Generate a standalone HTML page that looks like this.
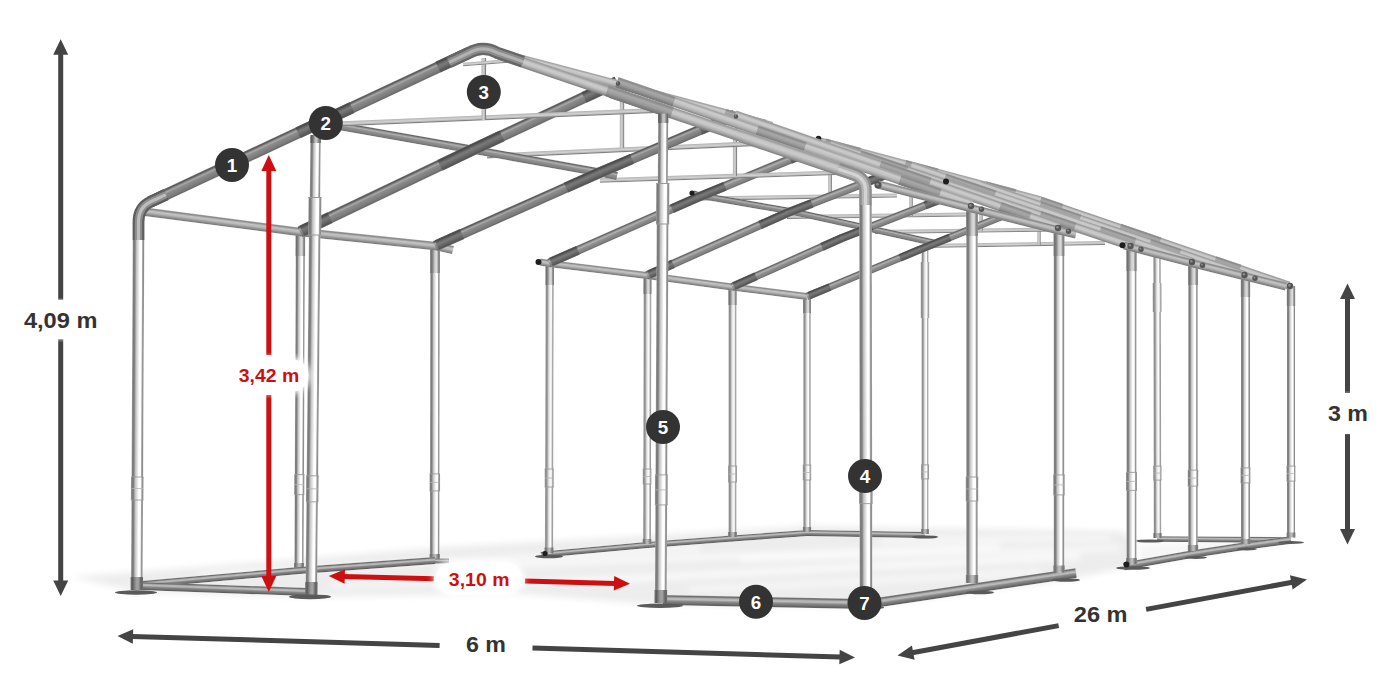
<!DOCTYPE html>
<html lang="pl">
<head>
<meta charset="utf-8">
<title>Wymiary hali namiotowej 6 m x 26 m</title>
<style>
html,body{margin:0;padding:0;background:#fff;}
body{width:1400px;height:700px;overflow:hidden;font-family:"Liberation Sans",sans-serif;}
svg{display:block;}
text{font-family:"Liberation Sans",sans-serif;font-weight:bold;}
.d{fill:#333;font-size:22.6px;}
.r{fill:#cf0f0f;font-size:18.6px;}
.n{fill:#fff;font-size:18.8px;}
</style>
</head>
<body>
<svg width="1400" height="700" viewBox="0 0 1400 700">
<defs>
<linearGradient id="g-post" x1="0" y1="0" x2="0" y2="1"><stop offset="0" stop-color="#a8a8a8"/><stop offset="0.08" stop-color="#7a7a7a"/><stop offset="0.2" stop-color="#808080"/><stop offset="0.34" stop-color="#c4c4c4"/><stop offset="0.5" stop-color="#e4e4e4"/><stop offset="0.62" stop-color="#ffffff"/><stop offset="0.78" stop-color="#ffffff"/><stop offset="0.86" stop-color="#a0a0a0"/><stop offset="0.94" stop-color="#8c8c8c"/><stop offset="1" stop-color="#b4b4b4"/></linearGradient>
<linearGradient id="g-postb" x1="0" y1="0" x2="0" y2="1"><stop offset="0" stop-color="#b4b4b4"/><stop offset="0.1" stop-color="#8c8c8c"/><stop offset="0.24" stop-color="#969696"/><stop offset="0.38" stop-color="#cfcfcf"/><stop offset="0.55" stop-color="#f0f0f0"/><stop offset="0.72" stop-color="#ffffff"/><stop offset="0.84" stop-color="#b0b0b0"/><stop offset="0.94" stop-color="#9a9a9a"/><stop offset="1" stop-color="#c0c0c0"/></linearGradient>
<linearGradient id="g-sleeve" x1="0" y1="0" x2="0" y2="1"><stop offset="0" stop-color="#7c7c7c"/><stop offset="0.1" stop-color="#5c5c5c"/><stop offset="0.25" stop-color="#6e6e6e"/><stop offset="0.45" stop-color="#bcbcbc"/><stop offset="0.6" stop-color="#c8c8c8"/><stop offset="0.78" stop-color="#8a8a8a"/><stop offset="0.92" stop-color="#666666"/><stop offset="1" stop-color="#8a8a8a"/></linearGradient>
<linearGradient id="g-dark" x1="0" y1="0" x2="0" y2="1"><stop offset="0" stop-color="#787878"/><stop offset="0.1" stop-color="#565656"/><stop offset="0.22" stop-color="#8c8c8c"/><stop offset="0.32" stop-color="#a8a8a8"/><stop offset="0.44" stop-color="#8c8c8c"/><stop offset="0.8" stop-color="#7a7a7a"/><stop offset="0.94" stop-color="#6a6a6a"/><stop offset="1" stop-color="#8a8a8a"/></linearGradient>
<linearGradient id="g-dark2" x1="0" y1="0" x2="0" y2="1"><stop offset="0" stop-color="#858585"/><stop offset="0.1" stop-color="#646464"/><stop offset="0.24" stop-color="#989898"/><stop offset="0.36" stop-color="#b0b0b0"/><stop offset="0.5" stop-color="#929292"/><stop offset="0.8" stop-color="#808080"/><stop offset="0.94" stop-color="#707070"/><stop offset="1" stop-color="#909090"/></linearGradient>
<linearGradient id="g-light" x1="0" y1="0" x2="0" y2="1"><stop offset="0" stop-color="#aaaaaa"/><stop offset="0.1" stop-color="#9c9c9c"/><stop offset="0.3" stop-color="#c6c6c6"/><stop offset="0.5" stop-color="#cacaca"/><stop offset="0.7" stop-color="#b2b2b2"/><stop offset="0.88" stop-color="#929292"/><stop offset="1" stop-color="#808080"/></linearGradient>
<linearGradient id="g-lite2" x1="0" y1="0" x2="0" y2="1"><stop offset="0" stop-color="#b0b0b0"/><stop offset="0.1" stop-color="#a4a4a4"/><stop offset="0.3" stop-color="#cccccc"/><stop offset="0.55" stop-color="#c2c2c2"/><stop offset="0.8" stop-color="#a6a6a6"/><stop offset="0.92" stop-color="#8c8c8c"/><stop offset="1" stop-color="#8a8a8a"/></linearGradient>
<linearGradient id="g-eave" x1="0" y1="0" x2="0" y2="1"><stop offset="0" stop-color="#9c9c9c"/><stop offset="0.12" stop-color="#8a8a8a"/><stop offset="0.35" stop-color="#c4c4c4"/><stop offset="0.55" stop-color="#b6b6b6"/><stop offset="0.8" stop-color="#8e8e8e"/><stop offset="0.94" stop-color="#7c7c7c"/><stop offset="1" stop-color="#949494"/></linearGradient>
<linearGradient id="g-tie" x1="0" y1="0" x2="0" y2="1"><stop offset="0" stop-color="#b0b0b0"/><stop offset="0.2" stop-color="#c0c0c0"/><stop offset="0.5" stop-color="#d2d2d2"/><stop offset="0.72" stop-color="#b4b4b4"/><stop offset="0.88" stop-color="#808080"/><stop offset="1" stop-color="#909090"/></linearGradient>
<linearGradient id="g-sleeve2" x1="0" y1="0" x2="0" y2="1"><stop offset="0" stop-color="#989898"/><stop offset="0.1" stop-color="#6e6e6e"/><stop offset="0.26" stop-color="#868686"/><stop offset="0.48" stop-color="#cccccc"/><stop offset="0.68" stop-color="#dedede"/><stop offset="0.84" stop-color="#8c8c8c"/><stop offset="0.94" stop-color="#808080"/><stop offset="1" stop-color="#a0a0a0"/></linearGradient>
<linearGradient id="g-dsl" x1="0" y1="0" x2="0" y2="1"><stop offset="0" stop-color="#5e5e5e"/><stop offset="0.12" stop-color="#484848"/><stop offset="0.3" stop-color="#6a6a6a"/><stop offset="0.45" stop-color="#7a7a7a"/><stop offset="0.7" stop-color="#666666"/><stop offset="0.9" stop-color="#545454"/><stop offset="1" stop-color="#6a6a6a"/></linearGradient>
<linearGradient id="g-lsl" x1="0" y1="0" x2="0" y2="1"><stop offset="0" stop-color="#9a9a9a"/><stop offset="0.12" stop-color="#8a8a8a"/><stop offset="0.35" stop-color="#a8a8a8"/><stop offset="0.6" stop-color="#9c9c9c"/><stop offset="0.85" stop-color="#808080"/><stop offset="1" stop-color="#747474"/></linearGradient>
<linearGradient id="g-ground" x1="0" y1="0" x2="0" y2="1"><stop offset="0" stop-color="#8a8a8a"/><stop offset="0.1" stop-color="#6c6c6c"/><stop offset="0.28" stop-color="#b2b2b2"/><stop offset="0.42" stop-color="#bcbcbc"/><stop offset="0.58" stop-color="#8c8c8c"/><stop offset="0.82" stop-color="#6e6e6e"/><stop offset="0.94" stop-color="#5e5e5e"/><stop offset="1" stop-color="#7c7c7c"/></linearGradient>
<linearGradient id="g-footd" x1="0" y1="0" x2="0" y2="1"><stop offset="0" stop-color="#747474"/><stop offset="0.15" stop-color="#5c5c5c"/><stop offset="0.45" stop-color="#9c9c9c"/><stop offset="0.6" stop-color="#a4a4a4"/><stop offset="0.85" stop-color="#626262"/><stop offset="1" stop-color="#727272"/></linearGradient>
<linearGradient id="g-foot" x1="0" y1="0" x2="0" y2="1"><stop offset="0" stop-color="#8a8a8a"/><stop offset="0.15" stop-color="#6e6e6e"/><stop offset="0.45" stop-color="#b4b4b4"/><stop offset="0.6" stop-color="#bcbcbc"/><stop offset="0.85" stop-color="#747474"/><stop offset="1" stop-color="#848484"/></linearGradient>
<filter id="bl" x="-10%" y="-10%" width="120%" height="120%"><feGaussianBlur stdDeviation="3"/></filter>
<filter id="bl2" x="-10%" y="-30%" width="120%" height="160%"><feGaussianBlur stdDeviation="6"/></filter>
</defs>
<rect width="1400" height="700" fill="#fff"/>

<g filter="url(#bl)">
<polygon points="72,577 300,559 445,547 810,526 1120,531 1136,540 1131,567 1059,581 868,607 660,605 520,594 312,597 137,592" fill="#ededed"/>
<polygon points="1140,545 1290,536 1296,542 1140,566" fill="#f6f6f6"/>
</g>
<g filter="url(#bl)" stroke="#fbfbfb" fill="none">
<line x1="200" y1="574" x2="700" y2="548" stroke-width="4"/>
<line x1="470" y1="566" x2="1000" y2="546" stroke-width="5"/>
<line x1="560" y1="582" x2="1080" y2="556" stroke-width="6"/>
<line x1="690" y1="590" x2="1040" y2="572" stroke-width="4"/>
<line x1="880" y1="540" x2="1110" y2="538" stroke-width="4"/>
<line x1="330" y1="586" x2="640" y2="580" stroke-width="3"/>
<line x1="740" y1="560" x2="1120" y2="548" stroke-width="4"/>
</g>
<rect x="-0.0" y="-3.00" width="118.0" height="6.00" fill="url(#g-ground)" transform="translate(807.0 533.0) rotate(0.97)"/>
<rect x="-0.0" y="-2.80" width="134.0" height="5.60" fill="url(#g-ground)" transform="translate(1157.0 539.0) rotate(0.43)"/>
<circle cx="549.0" cy="554.0" r="3.00" fill="#8a8a8a"/>
<circle cx="647.0" cy="545.0" r="3.00" fill="#8a8a8a"/>
<circle cx="732.0" cy="538.5" r="3.00" fill="#8a8a8a"/>
<rect x="-0.0" y="-3.00" width="8.1" height="6.00" fill="url(#g-ground)" transform="translate(541.0 555.0) rotate(-7.13)"/>
<rect x="-0.0" y="-3.00" width="98.4" height="6.00" fill="url(#g-ground)" transform="translate(549.0 554.0) rotate(-5.25)"/>
<rect x="-0.0" y="-3.00" width="85.2" height="6.00" fill="url(#g-ground)" transform="translate(647.0 545.0) rotate(-4.37)"/>
<rect x="-0.0" y="-3.00" width="75.2" height="6.00" fill="url(#g-ground)" transform="translate(732.0 538.5) rotate(-4.19)"/>
<rect x="-0.0" y="-2.00" width="183.0" height="4.00" fill="url(#g-tie)" transform="translate(922.0 246.0) rotate(-0.94)"/>
<rect x="-0.0" y="-1.70" width="19.0" height="3.40" fill="url(#g-tie)" transform="translate(1039.0 245.0) rotate(-90.00)"/>
<rect x="-0.0" y="-2.00" width="187.0" height="4.00" fill="url(#g-tie)" transform="translate(875.0 232.0) rotate(-0.77)"/>
<rect x="-0.0" y="-1.70" width="20.0" height="3.40" fill="url(#g-tie)" transform="translate(981.0 231.0) rotate(-90.00)"/>
<rect x="-0.0" y="-2.05" width="181.0" height="4.10" fill="url(#g-tie)" transform="translate(787.0 217.0) rotate(-0.79)"/>
<rect x="-0.0" y="-1.80" width="23.0" height="3.60" fill="url(#g-tie)" transform="translate(911.0 216.0) rotate(-90.00)"/>
<rect x="-0.0" y="-2.10" width="197.0" height="4.20" fill="url(#g-tie)" transform="translate(700.0 198.5) rotate(-0.87)"/>
<rect x="-0.0" y="-1.90" width="29.0" height="3.80" fill="url(#g-tie)" transform="translate(830.0 197.0) rotate(-90.00)"/>
<rect x="-0.0" y="-3.50" width="288.0" height="7.00" fill="url(#g-postb)" transform="translate(925.0 534.0) rotate(-90.00)"/>
<rect x="-0.0" y="-4.00" width="14.0" height="8.00" fill="url(#g-postb)" transform="translate(925.0 478.9) rotate(-90.00)"/>
<line x1="921.0" y1="464.9" x2="929.0" y2="464.9" stroke="#9a9a9a" stroke-width="0.9"/>
<line x1="921.0" y1="478.9" x2="929.0" y2="478.9" stroke="#9a9a9a" stroke-width="0.9"/>
<line x1="921.5" y1="471.9" x2="928.5" y2="471.9" stroke="#b4b4b4" stroke-width="0.8"/>
<rect x="-0.0" y="-3.90" width="5.0" height="7.80" fill="url(#g-foot)" transform="translate(925.0 534.0) rotate(-90.00)"/>
<rect x="-0.0" y="-3.75" width="281.0" height="7.50" fill="url(#g-postb)" transform="translate(1157.5 538.0) rotate(-90.10)"/>
<rect x="-0.0" y="-4.25" width="14.0" height="8.50" fill="url(#g-postb)" transform="translate(1157.4 480.1) rotate(-90.10)"/>
<line x1="1153.1" y1="466.1" x2="1161.6" y2="466.1" stroke="#9a9a9a" stroke-width="0.9"/>
<line x1="1153.1" y1="480.1" x2="1161.6" y2="480.1" stroke="#9a9a9a" stroke-width="0.9"/>
<line x1="1153.6" y1="473.1" x2="1161.1" y2="473.1" stroke="#b4b4b4" stroke-width="0.8"/>
<rect x="-0.0" y="-4.15" width="5.0" height="8.30" fill="url(#g-foot)" transform="translate(1157.5 538.0) rotate(-90.10)"/>
<rect x="-0.0" y="-4.30" width="56.0" height="8.60" fill="url(#g-postb)" transform="translate(925.0 318.0) rotate(-90.00)"/>
<rect x="-0.0" y="-4.50" width="29.0" height="9.00" fill="url(#g-postb)" transform="translate(1157.2 312.0) rotate(-90.20)"/>
<ellipse cx="925.0" cy="537.0" rx="13.0" ry="1.6" fill="#5a5a5a"/>
<ellipse cx="1150.0" cy="541.0" rx="14.0" ry="1.6" fill="#5a5a5a"/>
<rect x="-0.0" y="-3.75" width="235.0" height="7.50" fill="url(#g-postb)" transform="translate(807.0 532.0) rotate(-90.00)"/>
<rect x="-0.0" y="-3.95" width="16.0" height="7.90" fill="url(#g-sleeve2)" transform="translate(807.0 313.0) rotate(-90.00)"/>
<rect x="-0.0" y="-4.25" width="15.0" height="8.50" fill="url(#g-postb)" transform="translate(807.0 480.0) rotate(-90.00)"/>
<line x1="802.8" y1="465.0" x2="811.2" y2="465.0" stroke="#9a9a9a" stroke-width="0.9"/>
<line x1="802.8" y1="480.0" x2="811.2" y2="480.0" stroke="#9a9a9a" stroke-width="0.9"/>
<line x1="803.2" y1="472.5" x2="810.8" y2="472.5" stroke="#b4b4b4" stroke-width="0.8"/>
<rect x="-0.0" y="-4.15" width="5.0" height="8.30" fill="url(#g-foot)" transform="translate(807.0 532.0) rotate(-90.00)"/>
<rect x="-0.0" y="-4.00" width="249.0" height="8.00" fill="url(#g-postb)" transform="translate(732.5 537.0) rotate(-90.00)"/>
<rect x="-0.0" y="-4.20" width="17.0" height="8.40" fill="url(#g-sleeve2)" transform="translate(732.5 305.0) rotate(-90.00)"/>
<rect x="-0.0" y="-4.50" width="16.0" height="9.00" fill="url(#g-postb)" transform="translate(732.5 482.0) rotate(-90.00)"/>
<line x1="728.0" y1="466.0" x2="737.0" y2="466.0" stroke="#9a9a9a" stroke-width="0.9"/>
<line x1="728.0" y1="482.0" x2="737.0" y2="482.0" stroke="#9a9a9a" stroke-width="0.9"/>
<line x1="728.5" y1="474.0" x2="736.5" y2="474.0" stroke="#b4b4b4" stroke-width="0.8"/>
<rect x="-0.0" y="-4.40" width="5.0" height="8.80" fill="url(#g-foot)" transform="translate(732.5 537.0) rotate(-90.00)"/>
<rect x="-0.0" y="-3.90" width="268.0" height="7.80" fill="url(#g-postb)" transform="translate(647.0 544.0) rotate(-89.89)"/>
<rect x="-0.0" y="-4.10" width="18.0" height="8.20" fill="url(#g-sleeve2)" transform="translate(647.5 294.0) rotate(-89.89)"/>
<rect x="-0.0" y="-4.40" width="15.0" height="8.80" fill="url(#g-postb)" transform="translate(647.1 484.0) rotate(-89.89)"/>
<line x1="642.7" y1="469.0" x2="651.5" y2="469.0" stroke="#9a9a9a" stroke-width="0.9"/>
<line x1="642.7" y1="484.0" x2="651.5" y2="484.0" stroke="#9a9a9a" stroke-width="0.9"/>
<line x1="643.2" y1="476.5" x2="651.0" y2="476.5" stroke="#b4b4b4" stroke-width="0.8"/>
<rect x="-0.0" y="-4.30" width="5.0" height="8.60" fill="url(#g-foot)" transform="translate(647.0 544.0) rotate(-89.89)"/>
<rect x="-0.0" y="-4.10" width="287.5" height="8.20" fill="url(#g-postb)" transform="translate(549.0 553.5) rotate(-89.86)"/>
<rect x="-0.0" y="-4.30" width="19.0" height="8.60" fill="url(#g-sleeve2)" transform="translate(549.7 285.0) rotate(-89.86)"/>
<rect x="-0.0" y="-4.60" width="18.0" height="9.20" fill="url(#g-postb)" transform="translate(549.2 487.0) rotate(-89.86)"/>
<line x1="544.6" y1="469.0" x2="553.8" y2="469.0" stroke="#9a9a9a" stroke-width="0.9"/>
<line x1="544.6" y1="487.0" x2="553.8" y2="487.0" stroke="#9a9a9a" stroke-width="0.9"/>
<line x1="545.1" y1="478.0" x2="553.3" y2="478.0" stroke="#b4b4b4" stroke-width="0.8"/>
<rect x="-0.0" y="-4.50" width="6.0" height="9.00" fill="url(#g-foot)" transform="translate(549.0 553.5) rotate(-89.86)"/>
<ellipse cx="549.0" cy="556.5" rx="14.0" ry="1.8" fill="#5a5a5a"/>
<circle cx="545.0" cy="553.5" r="2.6" fill="#1e1e1e"/>
<circle cx="549.0" cy="263.5" r="3.50" fill="#a0a0a0"/>
<circle cx="647.0" cy="275.5" r="3.50" fill="#a0a0a0"/>
<circle cx="732.0" cy="287.0" r="3.50" fill="#a0a0a0"/>
<rect x="-0.0" y="-3.50" width="9.1" height="7.00" fill="url(#g-eave)" transform="translate(540.0 262.0) rotate(9.46)"/>
<rect x="-0.0" y="-3.50" width="98.7" height="7.00" fill="url(#g-eave)" transform="translate(549.0 263.5) rotate(6.98)"/>
<rect x="-0.0" y="-3.50" width="85.8" height="7.00" fill="url(#g-eave)" transform="translate(647.0 275.5) rotate(7.70)"/>
<rect x="-0.0" y="-3.50" width="75.6" height="7.00" fill="url(#g-eave)" transform="translate(732.0 287.0) rotate(7.22)"/>
<circle cx="700.0" cy="195.5" r="3.25" fill="#888888"/>
<circle cx="792.0" cy="211.5" r="3.25" fill="#888888"/>
<rect x="-0.0" y="-3.25" width="7.3" height="6.50" fill="url(#g-dark2)" transform="translate(693.0 193.5) rotate(15.95)"/>
<rect x="-0.0" y="-3.25" width="93.4" height="6.50" fill="url(#g-dark2)" transform="translate(700.0 195.5) rotate(9.87)"/>
<rect x="-0.0" y="-3.25" width="146.4" height="6.50" fill="url(#g-dark2)" transform="translate(792.0 211.5) rotate(12.42)"/>
<circle cx="920.0" cy="249.5" r="3.75" fill="#888888"/>
<rect x="-0.0" y="-3.75" width="122.4" height="7.50" fill="url(#g-dark2)" transform="translate(807.0 296.5) rotate(-22.58)"/>
<rect x="-0.0" y="-3.75" width="129.4" height="7.50" fill="url(#g-dark2)" transform="translate(920.0 249.5) rotate(-22.01)"/>
<rect x="-0.0" y="-3.90" width="22.7" height="7.80" fill="url(#g-dsl)" transform="translate(809.0 295.7) rotate(-22.58)"/>
<rect x="-0.0" y="-3.90" width="21.7" height="7.80" fill="url(#g-dsl)" transform="translate(900.0 257.8) rotate(-22.58)"/>
<rect x="-0.0" y="-3.90" width="32.4" height="7.80" fill="url(#g-dsl)" transform="translate(920.0 249.5) rotate(-22.01)"/>
<circle cx="842.0" cy="238.0" r="4.00" fill="#888888"/>
<rect x="-0.0" y="-4.00" width="120.4" height="8.00" fill="url(#g-dark2)" transform="translate(732.0 287.0) rotate(-24.01)"/>
<rect x="-0.0" y="-4.00" width="148.2" height="8.00" fill="url(#g-dark2)" transform="translate(842.0 238.0) rotate(-21.37)"/>
<rect x="-0.0" y="-4.15" width="24.1" height="8.30" fill="url(#g-dsl)" transform="translate(734.0 286.1) rotate(-24.01)"/>
<rect x="-0.0" y="-4.15" width="21.9" height="8.30" fill="url(#g-dsl)" transform="translate(822.0 246.9) rotate(-24.01)"/>
<rect x="-0.0" y="-4.15" width="32.2" height="8.30" fill="url(#g-dsl)" transform="translate(842.0 238.0) rotate(-21.37)"/>
<rect x="-0.0" y="-4.15" width="26.8" height="8.30" fill="url(#g-dsl)" transform="translate(925.0 205.5) rotate(-21.37)"/>
<circle cx="787.0" cy="213.0" r="4.25" fill="#888888"/>
<rect x="-0.0" y="-4.25" width="153.3" height="8.50" fill="url(#g-dark2)" transform="translate(647.0 275.5) rotate(-24.06)"/>
<rect x="-0.0" y="-4.25" width="133.0" height="8.50" fill="url(#g-dark2)" transform="translate(787.0 213.0) rotate(-21.16)"/>
<rect x="-0.0" y="-4.40" width="26.3" height="8.80" fill="url(#g-dsl)" transform="translate(649.0 274.6) rotate(-24.06)"/>
<rect x="-0.0" y="-4.40" width="29.6" height="8.80" fill="url(#g-dsl)" transform="translate(760.0 225.1) rotate(-24.06)"/>
<rect x="-0.0" y="-4.40" width="26.8" height="8.80" fill="url(#g-dsl)" transform="translate(787.0 213.0) rotate(-21.16)"/>
<rect x="-0.0" y="-4.40" width="26.8" height="8.80" fill="url(#g-dsl)" transform="translate(865.0 182.8) rotate(-21.16)"/>
<circle cx="697.5" cy="197.5" r="4.50" fill="#888888"/>
<rect x="-0.0" y="-4.50" width="162.3" height="9.00" fill="url(#g-dark2)" transform="translate(549.0 263.0) rotate(-23.80)"/>
<rect x="-0.0" y="-4.50" width="143.3" height="9.00" fill="url(#g-dark2)" transform="translate(697.5 197.5) rotate(-22.36)"/>
<rect x="-0.0" y="-4.65" width="29.5" height="9.30" fill="url(#g-dsl)" transform="translate(551.0 262.1) rotate(-23.80)"/>
<rect x="-0.0" y="-4.65" width="27.9" height="9.30" fill="url(#g-dsl)" transform="translate(672.0 208.7) rotate(-23.80)"/>
<rect x="-0.0" y="-4.65" width="29.7" height="9.30" fill="url(#g-dsl)" transform="translate(697.5 197.5) rotate(-22.36)"/>
<rect x="-0.0" y="-4.65" width="32.4" height="9.30" fill="url(#g-dsl)" transform="translate(790.0 159.5) rotate(-22.36)"/>
<circle cx="538.5" cy="262.0" r="3.0" fill="#1e1e1e"/>
<circle cx="692.0" cy="193.0" r="2.6" fill="#1e1e1e"/>
<rect x="-0.0" y="-2.30" width="260.1" height="4.60" fill="url(#g-tie)" transform="translate(600.0 180.5) rotate(-1.87)"/>
<rect x="-0.0" y="-2.10" width="48.0" height="4.20" fill="url(#g-tie)" transform="translate(735.0 176.0) rotate(-90.00)"/>
<rect x="-0.0" y="-2.40" width="305.3" height="4.80" fill="url(#g-tie)" transform="translate(487.0 156.0) rotate(-2.63)"/>
<rect x="-0.0" y="-2.20" width="48.0" height="4.40" fill="url(#g-tie)" transform="translate(622.0 148.0) rotate(-90.00)"/>
<rect x="-0.0" y="-4.75" width="311.0" height="9.50" fill="url(#g-post)" transform="translate(434.7 560.0) rotate(-89.94)"/>
<rect x="-0.0" y="-4.95" width="24.0" height="9.90" fill="url(#g-sleeve2)" transform="translate(435.0 273.0) rotate(-89.94)"/>
<rect x="-0.0" y="-5.25" width="17.0" height="10.50" fill="url(#g-post)" transform="translate(434.8 490.9) rotate(-89.94)"/>
<line x1="429.5" y1="473.9" x2="440.0" y2="473.9" stroke="#9a9a9a" stroke-width="0.9"/>
<line x1="429.5" y1="490.9" x2="440.0" y2="490.9" stroke="#9a9a9a" stroke-width="0.9"/>
<line x1="430.0" y1="482.4" x2="439.5" y2="482.4" stroke="#b4b4b4" stroke-width="0.8"/>
<rect x="-0.0" y="-5.15" width="6.0" height="10.30" fill="url(#g-foot)" transform="translate(434.7 560.0) rotate(-89.94)"/>
<rect x="-0.0" y="-2.50" width="15.0" height="5.00" fill="url(#g-ground)" transform="translate(434.0 561.0) rotate(0.00)"/>
<rect x="-0.0" y="-4.60" width="337.0" height="9.20" fill="url(#g-post)" transform="translate(299.0 569.0) rotate(-89.76)"/>
<rect x="-0.0" y="-4.80" width="24.0" height="9.60" fill="url(#g-sleeve2)" transform="translate(300.3 256.0) rotate(-89.76)"/>
<rect x="-0.0" y="-5.10" width="20.0" height="10.20" fill="url(#g-post)" transform="translate(299.3 494.6) rotate(-89.76)"/>
<line x1="294.3" y1="474.6" x2="304.5" y2="474.6" stroke="#9a9a9a" stroke-width="0.9"/>
<line x1="294.2" y1="494.6" x2="304.4" y2="494.6" stroke="#9a9a9a" stroke-width="0.9"/>
<line x1="294.8" y1="484.6" x2="304.0" y2="484.6" stroke="#b4b4b4" stroke-width="0.8"/>
<rect x="-0.0" y="-5.00" width="6.0" height="10.00" fill="url(#g-foot)" transform="translate(299.0 569.0) rotate(-89.76)"/>
<circle cx="299.0" cy="570.5" r="3.40" fill="#8a8a8a"/>
<rect x="-0.0" y="-3.40" width="157.6" height="6.80" fill="url(#g-ground)" transform="translate(142.0 584.5) rotate(-5.10)"/>
<rect x="-0.0" y="-3.40" width="136.4" height="6.80" fill="url(#g-ground)" transform="translate(299.0 570.5) rotate(-4.21)"/>
<circle cx="300.0" cy="232.0" r="4.20" fill="#a0a0a0"/>
<circle cx="435.0" cy="246.0" r="4.20" fill="#a0a0a0"/>
<rect x="-0.0" y="-4.20" width="158.3" height="8.40" fill="url(#g-eave)" transform="translate(143.0 211.5) rotate(7.44)"/>
<rect x="-0.0" y="-4.20" width="135.7" height="8.40" fill="url(#g-eave)" transform="translate(300.0 232.0) rotate(5.92)"/>
<rect x="-0.0" y="-4.20" width="18.4" height="8.40" fill="url(#g-eave)" transform="translate(435.0 246.0) rotate(12.53)"/>
<circle cx="472.0" cy="149.5" r="4.10" fill="#888888"/>
<circle cx="600.0" cy="172.5" r="4.10" fill="#888888"/>
<rect x="-0.0" y="-4.10" width="149.3" height="8.20" fill="url(#g-dark2)" transform="translate(325.0 123.5) rotate(10.03)"/>
<rect x="-0.0" y="-4.10" width="130.0" height="8.20" fill="url(#g-dark2)" transform="translate(472.0 149.5) rotate(10.19)"/>
<rect x="-0.0" y="-4.10" width="17.4" height="8.20" fill="url(#g-dark2)" transform="translate(600.0 172.5) rotate(11.63)"/>
<circle cx="600.0" cy="172.5" r="5.25" fill="#808080"/>
<rect x="-0.0" y="-5.25" width="180.6" height="10.50" fill="url(#g-dark)" transform="translate(435.0 246.0) rotate(-24.01)"/>
<rect x="-0.0" y="-5.25" width="146.7" height="10.50" fill="url(#g-dark)" transform="translate(600.0 172.5) rotate(-23.07)"/>
<rect x="-0.0" y="-5.40" width="27.4" height="10.80" fill="url(#g-dsl)" transform="translate(437.0 245.1) rotate(-24.01)"/>
<rect x="-0.0" y="-5.40" width="37.2" height="10.80" fill="url(#g-dsl)" transform="translate(566.0 187.6) rotate(-24.01)"/>
<rect x="-0.0" y="-5.40" width="34.8" height="10.80" fill="url(#g-dsl)" transform="translate(600.0 172.5) rotate(-23.07)"/>
<rect x="-0.0" y="-5.40" width="38.0" height="10.80" fill="url(#g-dsl)" transform="translate(700.0 129.9) rotate(-23.07)"/>
<circle cx="472.0" cy="150.0" r="5.75" fill="#808080"/>
<rect x="-0.0" y="-5.75" width="190.5" height="11.50" fill="url(#g-dark)" transform="translate(300.0 232.0) rotate(-25.49)"/>
<rect x="-0.0" y="-5.75" width="160.2" height="11.50" fill="url(#g-dark)" transform="translate(472.0 150.0) rotate(-25.12)"/>
<rect x="-0.0" y="-5.90" width="31.0" height="11.80" fill="url(#g-dsl)" transform="translate(302.0 231.0) rotate(-25.49)"/>
<rect x="-0.0" y="-5.90" width="35.5" height="11.80" fill="url(#g-dsl)" transform="translate(440.0 165.3) rotate(-25.49)"/>
<rect x="-0.0" y="-5.90" width="33.1" height="11.80" fill="url(#g-dsl)" transform="translate(472.0 150.0) rotate(-25.12)"/>
<rect x="-0.0" y="-5.90" width="36.4" height="11.80" fill="url(#g-dsl)" transform="translate(584.0 97.5) rotate(-25.12)"/>
<rect x="-0.0" y="-2.50" width="343.3" height="5.00" fill="url(#g-tie)" transform="translate(325.0 124.5) rotate(-2.42)"/>
<rect x="-0.0" y="-2.30" width="62.0" height="4.60" fill="url(#g-tie)" transform="translate(483.8 120.0) rotate(-90.00)"/>
<rect x="-0.0" y="-1.70" width="45.1" height="3.40" fill="url(#g-tie)" transform="translate(463.0 64.5) rotate(-4.45)"/>
<circle cx="1131.0" cy="565.0" r="3.80" fill="#8a8a8a"/>
<circle cx="1193.0" cy="554.0" r="3.80" fill="#8a8a8a"/>
<circle cx="1245.5" cy="546.0" r="3.80" fill="#8a8a8a"/>
<rect x="-0.0" y="-3.80" width="7.2" height="7.60" fill="url(#g-ground)" transform="translate(1124.0 566.5) rotate(-12.09)"/>
<rect x="-0.0" y="-3.80" width="63.0" height="7.60" fill="url(#g-ground)" transform="translate(1131.0 565.0) rotate(-10.06)"/>
<rect x="-0.0" y="-3.80" width="53.1" height="7.60" fill="url(#g-ground)" transform="translate(1193.0 554.0) rotate(-8.66)"/>
<rect x="-0.0" y="-3.80" width="45.9" height="7.60" fill="url(#g-ground)" transform="translate(1245.5 546.0) rotate(-7.51)"/>
<rect x="-0.0" y="-4.00" width="251.5" height="8.00" fill="url(#g-post)" transform="translate(1291.0 537.5) rotate(-90.00)"/>
<rect x="-0.0" y="-4.20" width="20.0" height="8.40" fill="url(#g-sleeve2)" transform="translate(1291.0 306.0) rotate(-90.00)"/>
<rect x="-0.0" y="-4.50" width="15.0" height="9.00" fill="url(#g-post)" transform="translate(1291.0 481.1) rotate(-90.00)"/>
<line x1="1286.5" y1="466.1" x2="1295.5" y2="466.1" stroke="#9a9a9a" stroke-width="0.9"/>
<line x1="1286.5" y1="481.1" x2="1295.5" y2="481.1" stroke="#9a9a9a" stroke-width="0.9"/>
<line x1="1287.0" y1="473.6" x2="1295.0" y2="473.6" stroke="#b4b4b4" stroke-width="0.8"/>
<rect x="-0.0" y="-4.40" width="5.0" height="8.80" fill="url(#g-foot)" transform="translate(1291.0 537.5) rotate(-90.00)"/>
<rect x="-0.0" y="-4.50" width="269.0" height="9.00" fill="url(#g-post)" transform="translate(1245.5 544.0) rotate(-90.00)"/>
<rect x="-0.0" y="-4.70" width="22.0" height="9.40" fill="url(#g-sleeve2)" transform="translate(1245.5 297.0) rotate(-90.00)"/>
<rect x="-0.0" y="-5.00" width="15.0" height="10.00" fill="url(#g-post)" transform="translate(1245.5 482.9) rotate(-90.00)"/>
<line x1="1240.5" y1="467.9" x2="1250.5" y2="467.9" stroke="#9a9a9a" stroke-width="0.9"/>
<line x1="1240.5" y1="482.9" x2="1250.5" y2="482.9" stroke="#9a9a9a" stroke-width="0.9"/>
<line x1="1241.0" y1="475.4" x2="1250.0" y2="475.4" stroke="#b4b4b4" stroke-width="0.8"/>
<rect x="-0.0" y="-4.90" width="5.0" height="9.80" fill="url(#g-foot)" transform="translate(1245.5 544.0) rotate(-90.00)"/>
<rect x="-0.0" y="-4.75" width="289.0" height="9.50" fill="url(#g-post)" transform="translate(1193.0 551.0) rotate(-90.00)"/>
<rect x="-0.0" y="-4.95" width="23.0" height="9.90" fill="url(#g-sleeve2)" transform="translate(1193.0 285.0) rotate(-90.00)"/>
<rect x="-0.0" y="-5.25" width="16.0" height="10.50" fill="url(#g-post)" transform="translate(1193.0 486.1) rotate(-90.00)"/>
<line x1="1187.8" y1="470.1" x2="1198.2" y2="470.1" stroke="#9a9a9a" stroke-width="0.9"/>
<line x1="1187.8" y1="486.1" x2="1198.2" y2="486.1" stroke="#9a9a9a" stroke-width="0.9"/>
<line x1="1188.2" y1="478.1" x2="1197.8" y2="478.1" stroke="#b4b4b4" stroke-width="0.8"/>
<rect x="-0.0" y="-5.15" width="6.0" height="10.30" fill="url(#g-foot)" transform="translate(1193.0 551.0) rotate(-90.00)"/>
<rect x="-0.0" y="-5.00" width="318.0" height="10.00" fill="url(#g-post)" transform="translate(1131.5 564.0) rotate(-90.00)"/>
<rect x="-0.0" y="-5.20" width="25.0" height="10.40" fill="url(#g-sleeve2)" transform="translate(1131.5 271.0) rotate(-90.00)"/>
<rect x="-0.0" y="-5.50" width="18.0" height="11.00" fill="url(#g-post)" transform="translate(1131.5 490.4) rotate(-90.00)"/>
<line x1="1126.0" y1="472.4" x2="1137.0" y2="472.4" stroke="#9a9a9a" stroke-width="0.9"/>
<line x1="1126.0" y1="490.4" x2="1137.0" y2="490.4" stroke="#9a9a9a" stroke-width="0.9"/>
<line x1="1126.5" y1="481.4" x2="1136.5" y2="481.4" stroke="#b4b4b4" stroke-width="0.8"/>
<rect x="-0.0" y="-5.40" width="6.0" height="10.80" fill="url(#g-foot)" transform="translate(1131.5 564.0) rotate(-90.00)"/>
<ellipse cx="1133.0" cy="568.0" rx="17.0" ry="1.8" fill="#5a5a5a"/>
<ellipse cx="1291.0" cy="542.5" rx="13.0" ry="1.5" fill="#5a5a5a"/>
<ellipse cx="1247.0" cy="549.0" rx="10.0" ry="1.4" fill="#5a5a5a"/>
<ellipse cx="1196.0" cy="557.5" rx="11.0" ry="1.4" fill="#5a5a5a"/>
<circle cx="1126.5" cy="564.5" r="3.0" fill="#1e1e1e"/>
<circle cx="972.0" cy="588.5" r="4.80" fill="#8a8a8a"/>
<circle cx="1059.0" cy="575.5" r="4.80" fill="#8a8a8a"/>
<rect x="-0.0" y="-4.80" width="105.1" height="9.60" fill="url(#g-ground)" transform="translate(868.0 604.0) rotate(-8.48)"/>
<rect x="-0.0" y="-4.80" width="88.0" height="9.60" fill="url(#g-ground)" transform="translate(972.0 588.5) rotate(-8.50)"/>
<rect x="-0.0" y="-4.80" width="17.2" height="9.60" fill="url(#g-ground)" transform="translate(1059.0 575.5) rotate(-8.37)"/>
<rect x="-0.0" y="-5.25" width="343.5" height="10.50" fill="url(#g-post)" transform="translate(1059.0 572.5) rotate(-90.00)"/>
<rect x="-0.0" y="-5.45" width="27.0" height="10.90" fill="url(#g-sleeve2)" transform="translate(1059.0 256.0) rotate(-90.00)"/>
<rect x="-0.0" y="-5.75" width="20.0" height="11.50" fill="url(#g-post)" transform="translate(1059.0 494.9) rotate(-90.00)"/>
<line x1="1053.2" y1="474.9" x2="1064.8" y2="474.9" stroke="#9a9a9a" stroke-width="0.9"/>
<line x1="1053.2" y1="494.9" x2="1064.8" y2="494.9" stroke="#9a9a9a" stroke-width="0.9"/>
<line x1="1053.8" y1="484.9" x2="1064.2" y2="484.9" stroke="#b4b4b4" stroke-width="0.8"/>
<rect x="-0.0" y="-5.65" width="7.0" height="11.30" fill="url(#g-foot)" transform="translate(1059.0 572.5) rotate(-90.00)"/>
<rect x="-0.0" y="-5.75" width="376.0" height="11.50" fill="url(#g-post)" transform="translate(972.0 583.0) rotate(-90.00)"/>
<rect x="-0.0" y="-5.95" width="29.0" height="11.90" fill="url(#g-sleeve2)" transform="translate(972.0 236.0) rotate(-90.00)"/>
<rect x="-0.0" y="-6.25" width="24.0" height="12.50" fill="url(#g-post)" transform="translate(972.0 501.0) rotate(-90.00)"/>
<line x1="965.8" y1="477.0" x2="978.2" y2="477.0" stroke="#9a9a9a" stroke-width="0.9"/>
<line x1="965.8" y1="501.0" x2="978.2" y2="501.0" stroke="#9a9a9a" stroke-width="0.9"/>
<line x1="966.2" y1="489.0" x2="977.8" y2="489.0" stroke="#b4b4b4" stroke-width="0.8"/>
<rect x="-0.0" y="-6.15" width="8.0" height="12.30" fill="url(#g-foot)" transform="translate(972.0 583.0) rotate(-90.00)"/>
<ellipse cx="1066.0" cy="580.0" rx="14.0" ry="1.8" fill="#5a5a5a"/>
<ellipse cx="980.0" cy="592.5" rx="14.0" ry="1.8" fill="#5a5a5a"/>
<rect x="-0.0" y="-4.00" width="263.1" height="8.00" fill="url(#g-light)" transform="translate(1040.0 200.5) rotate(18.85)"/>
<rect x="-0.0" y="-4.15" width="23.2" height="8.30" fill="url(#g-lsl)" transform="translate(1040.0 200.5) rotate(18.85)"/>
<rect x="-0.0" y="-4.15" width="42.3" height="8.30" fill="url(#g-lsl)" transform="translate(1120.0 227.8) rotate(18.85)"/>
<rect x="-0.0" y="-4.15" width="26.4" height="8.30" fill="url(#g-lsl)" transform="translate(1215.0 260.2) rotate(18.85)"/>
<rect x="-0.0" y="-4.50" width="228.7" height="9.00" fill="url(#g-lite2)" transform="translate(819.0 141.5) rotate(14.95)"/>
<rect x="-0.0" y="-4.65" width="36.2" height="9.30" fill="url(#g-lsl)" transform="translate(825.0 143.1) rotate(14.95)"/>
<rect x="-0.0" y="-4.65" width="33.1" height="9.30" fill="url(#g-lsl)" transform="translate(905.0 164.5) rotate(14.95)"/>
<rect x="-0.0" y="-4.65" width="31.1" height="9.30" fill="url(#g-lsl)" transform="translate(985.0 185.8) rotate(14.95)"/>
<rect x="-0.0" y="-4.00" width="280.0" height="8.00" fill="url(#g-light)" transform="translate(980.0 184.5) rotate(18.86)"/>
<rect x="-0.0" y="-4.15" width="42.3" height="8.30" fill="url(#g-lsl)" transform="translate(1040.0 205.0) rotate(18.86)"/>
<rect x="-0.0" y="-4.15" width="31.7" height="8.30" fill="url(#g-lsl)" transform="translate(1150.0 242.6) rotate(18.86)"/>
<rect x="-0.0" y="-4.25" width="297.9" height="8.50" fill="url(#g-lite2)" transform="translate(911.0 166.0) rotate(18.80)"/>
<rect x="-0.0" y="-4.40" width="52.8" height="8.80" fill="url(#g-lsl)" transform="translate(945.0 177.6) rotate(18.80)"/>
<rect x="-0.0" y="-4.40" width="37.0" height="8.80" fill="url(#g-lsl)" transform="translate(1100.0 230.3) rotate(18.80)"/>
<rect x="-0.0" y="-4.50" width="317.7" height="9.00" fill="url(#g-light)" transform="translate(830.0 144.5) rotate(18.63)"/>
<rect x="-0.0" y="-4.65" width="49.6" height="9.30" fill="url(#g-lsl)" transform="translate(860.0 154.6) rotate(18.63)"/>
<rect x="-0.0" y="-4.65" width="36.9" height="9.30" fill="url(#g-lsl)" transform="translate(1040.0 215.3) rotate(18.63)"/>
<circle cx="818.5" cy="138.5" r="2.8" fill="#1e1e1e"/>
<circle cx="617.0" cy="84.0" r="4.20" fill="#c2c2c2"/>
<circle cx="740.0" cy="117.1" r="4.20" fill="#c2c2c2"/>
<rect x="-0.0" y="-4.20" width="124.1" height="8.40" fill="url(#g-lite2)" transform="translate(497.0 52.4) rotate(14.75)"/>
<rect x="-0.0" y="-4.20" width="127.4" height="8.40" fill="url(#g-lite2)" transform="translate(617.0 84.0) rotate(15.06)"/>
<rect x="-0.0" y="-4.20" width="33.2" height="8.40" fill="url(#g-lite2)" transform="translate(740.0 117.1) rotate(15.54)"/>
<rect x="-0.0" y="-4.35" width="34.2" height="8.70" fill="url(#g-lsl)" transform="translate(617.0 84.0) rotate(15.06)"/>
<rect x="-0.0" y="-4.35" width="15.5" height="8.70" fill="url(#g-lsl)" transform="translate(725.0 113.1) rotate(15.06)"/>
<rect x="-0.0" y="-4.35" width="25.9" height="8.70" fill="url(#g-lsl)" transform="translate(740.0 117.1) rotate(15.54)"/>
<rect x="-0.0" y="-4.75" width="342.8" height="9.50" fill="url(#g-light)" transform="translate(735.0 115.0) rotate(19.07)"/>
<rect x="-0.0" y="-4.90" width="52.9" height="9.80" fill="url(#g-lsl)" transform="translate(880.0 165.1) rotate(19.07)"/>
<rect x="-0.0" y="-4.90" width="31.7" height="9.80" fill="url(#g-lsl)" transform="translate(1000.0 206.6) rotate(19.07)"/>
<circle cx="946.0" cy="181.5" r="3.0" fill="#1e1e1e"/>
<rect x="-0.0" y="-5.00" width="375.5" height="10.00" fill="url(#g-lite2)" transform="translate(617.0 82.0) rotate(19.04)"/>
<rect x="-0.0" y="-5.15" width="60.3" height="10.30" fill="url(#g-lsl)" transform="translate(617.0 82.0) rotate(19.04)"/>
<rect x="-0.0" y="-5.15" width="50.8" height="10.30" fill="url(#g-lsl)" transform="translate(757.0 130.3) rotate(19.04)"/>
<rect x="-0.0" y="-5.15" width="42.3" height="10.30" fill="url(#g-lsl)" transform="translate(900.0 179.7) rotate(19.04)"/>
<circle cx="618.0" cy="83.5" r="2.2" fill="#555"/>
<circle cx="617.4" cy="82.8" r="0.8" fill="#8e8e8e"/>
<circle cx="736.0" cy="116.5" r="2.2" fill="#555"/>
<circle cx="735.4" cy="115.8" r="0.8" fill="#8e8e8e"/>
<circle cx="1131.5" cy="247.5" r="4.00" fill="#a0a0a0"/>
<circle cx="1193.0" cy="263.5" r="4.00" fill="#a0a0a0"/>
<circle cx="1245.5" cy="276.5" r="4.00" fill="#a0a0a0"/>
<rect x="-0.0" y="-4.00" width="7.8" height="8.00" fill="url(#g-eave)" transform="translate(1124.0 245.5) rotate(14.93)"/>
<rect x="-0.0" y="-4.00" width="63.5" height="8.00" fill="url(#g-eave)" transform="translate(1131.5 247.5) rotate(14.58)"/>
<rect x="-0.0" y="-4.00" width="54.1" height="8.00" fill="url(#g-eave)" transform="translate(1193.0 263.5) rotate(13.91)"/>
<rect x="-0.0" y="-4.00" width="41.7" height="8.00" fill="url(#g-eave)" transform="translate(1245.5 276.5) rotate(13.87)"/>
<circle cx="972.0" cy="208.5" r="4.20" fill="#a0a0a0"/>
<circle cx="1059.0" cy="230.5" r="4.20" fill="#a0a0a0"/>
<rect x="-0.0" y="-4.20" width="97.0" height="8.40" fill="url(#g-eave)" transform="translate(878.0 184.5) rotate(14.32)"/>
<rect x="-0.0" y="-4.20" width="89.7" height="8.40" fill="url(#g-eave)" transform="translate(972.0 208.5) rotate(14.19)"/>
<rect x="-0.0" y="-4.20" width="17.5" height="8.40" fill="url(#g-eave)" transform="translate(1059.0 230.5) rotate(13.24)"/>
<circle cx="1122.5" cy="245.2" r="3.0" fill="#1e1e1e"/>
<circle cx="971.0" cy="206.0" r="3.2" fill="#555"/>
<circle cx="970.4" cy="205.3" r="1.2" fill="#8e8e8e"/>
<circle cx="981.5" cy="209.2" r="2.7" fill="#555"/>
<circle cx="980.9" cy="208.5" r="1.0" fill="#8e8e8e"/>
<circle cx="1058.0" cy="228.0" r="3.2" fill="#555"/>
<circle cx="1057.4" cy="227.3" r="1.2" fill="#8e8e8e"/>
<circle cx="1068.5" cy="231.2" r="2.7" fill="#555"/>
<circle cx="1067.9" cy="230.5" r="1.0" fill="#8e8e8e"/>
<circle cx="1130.5" cy="246.0" r="3.2" fill="#555"/>
<circle cx="1129.9" cy="245.3" r="1.2" fill="#8e8e8e"/>
<circle cx="1141.0" cy="249.2" r="2.7" fill="#555"/>
<circle cx="1140.4" cy="248.5" r="1.0" fill="#8e8e8e"/>
<circle cx="1192.0" cy="262.0" r="3.2" fill="#555"/>
<circle cx="1191.4" cy="261.3" r="1.2" fill="#8e8e8e"/>
<circle cx="1202.5" cy="265.2" r="2.7" fill="#555"/>
<circle cx="1201.9" cy="264.5" r="1.0" fill="#8e8e8e"/>
<circle cx="1244.5" cy="275.0" r="3.2" fill="#555"/>
<circle cx="1243.9" cy="274.3" r="1.2" fill="#8e8e8e"/>
<circle cx="1255.0" cy="278.2" r="2.7" fill="#555"/>
<circle cx="1254.4" cy="277.5" r="1.0" fill="#8e8e8e"/>
<circle cx="1290.0" cy="286.0" r="3.2" fill="#555"/>
<circle cx="1289.4" cy="285.3" r="1.2" fill="#8e8e8e"/>
<circle cx="878.0" cy="185.0" r="3.6" fill="#555"/>
<circle cx="877.4" cy="184.3" r="1.3" fill="#8e8e8e"/>
<rect x="-0.0" y="-4.00" width="168.1" height="8.00" fill="url(#g-ground)" transform="translate(140.0 586.0) rotate(2.05)"/>
<rect x="-0.0" y="-5.00" width="203.0" height="10.00" fill="url(#g-ground)" transform="translate(663.0 600.0) rotate(1.13)"/>
<rect x="-0.0" y="-5.80" width="351.1" height="11.60" fill="url(#g-dark)" transform="translate(150.0 202.1) rotate(-25.09)"/>
<rect x="-0.0" y="-5.95" width="17.7" height="11.90" fill="url(#g-dsl)" transform="translate(150.0 202.1) rotate(-25.10)"/>
<rect x="-0.0" y="-5.95" width="59.6" height="11.90" fill="url(#g-dsl)" transform="translate(298.0 132.8) rotate(-25.10)"/>
<rect x="-0.0" y="-5.95" width="35.3" height="11.90" fill="url(#g-dsl)" transform="translate(438.0 67.2) rotate(-25.10)"/>
<rect x="-0.0" y="-5.40" width="122.5" height="10.80" fill="url(#g-light)" transform="translate(496.0 53.2) rotate(18.72)"/>
<rect x="-0.0" y="-5.80" width="138.3" height="11.60" fill="url(#g-light)" transform="translate(611.0 92.2) rotate(18.64)"/>
<rect x="-0.0" y="-6.25" width="127.7" height="12.50" fill="url(#g-light)" transform="translate(741.0 136.1) rotate(18.68)"/>
<rect x="-0.0" y="-5.55" width="4.2" height="11.10" fill="url(#g-lsl)" transform="translate(607.0 90.8) rotate(18.68)"/>
<rect x="-0.0" y="-5.95" width="64.4" height="11.90" fill="url(#g-lsl)" transform="translate(611.0 92.1) rotate(18.68)"/>
<path d="M449,62.4 L468,53.5 Q482,44.8 497,52.6 L523,61.6" fill="none" stroke="#666" stroke-width="12.0"/>
<path d="M449,62.4 L468,53.5 Q482,44.8 497,52.6 L523,61.6" fill="none" stroke="#8c8c8c" stroke-width="7.4"/>
<path d="M449,62.4 L468,53.5 Q482,44.8 497,52.6 L523,61.6" fill="none" stroke="#b2b2b2" stroke-width="3.1"/>
<path d="M138.5,240 L138.5,222 Q138.5,207.2 151,201.5 L166,194.6" fill="none" stroke="#5e5e5e" stroke-width="11.8"/>
<path d="M138.5,240 L138.5,222 Q138.5,207.2 151,201.5 L166,194.6" fill="none" stroke="#8c8c8c" stroke-width="7.3"/>
<path d="M138.5,240 L138.5,222 Q138.5,207.2 151,201.5 L166,194.6" fill="none" stroke="#bdbdbd" stroke-width="3.1"/>
<path d="M838,169 L853,174 Q865.5,178.2 865.5,190 L865.5,206" fill="none" stroke="#8c8c8c" stroke-width="12.6"/>
<path d="M838,169 L853,174 Q865.5,178.2 865.5,190 L865.5,206" fill="none" stroke="#b2b2b2" stroke-width="7.8"/>
<path d="M838,169 L853,174 Q865.5,178.2 865.5,190 L865.5,206" fill="none" stroke="#d4d4d4" stroke-width="3.3"/>
<rect x="-0.0" y="-5.80" width="350.0" height="11.60" fill="url(#g-post)" transform="translate(136.8 590.0) rotate(-89.72)"/>
<rect x="-0.0" y="-6.30" width="23.0" height="12.60" fill="url(#g-post)" transform="translate(137.2 500.0) rotate(-89.72)"/>
<line x1="131.0" y1="477.0" x2="143.6" y2="477.0" stroke="#9a9a9a" stroke-width="0.9"/>
<line x1="130.9" y1="500.0" x2="143.5" y2="500.0" stroke="#9a9a9a" stroke-width="0.9"/>
<line x1="131.5" y1="488.5" x2="143.1" y2="488.5" stroke="#b4b4b4" stroke-width="0.8"/>
<rect x="-0.0" y="-6.20" width="13.0" height="12.40" fill="url(#g-footd)" transform="translate(136.8 590.0) rotate(-89.72)"/>
<rect x="-0.0" y="-5.75" width="360.0" height="11.50" fill="url(#g-post)" transform="translate(311.3 595.0) rotate(-89.46)"/>
<rect x="-0.0" y="-6.25" width="26.0" height="12.50" fill="url(#g-post)" transform="translate(312.2 501.8) rotate(-89.46)"/>
<line x1="306.2" y1="475.8" x2="318.7" y2="475.8" stroke="#9a9a9a" stroke-width="0.9"/>
<line x1="305.9" y1="501.8" x2="318.4" y2="501.8" stroke="#9a9a9a" stroke-width="0.9"/>
<line x1="306.6" y1="488.8" x2="318.1" y2="488.8" stroke="#b4b4b4" stroke-width="0.8"/>
<rect x="-0.0" y="-6.15" width="13.0" height="12.30" fill="url(#g-footd)" transform="translate(311.3 595.0) rotate(-89.46)"/>
<rect x="-0.0" y="-5.20" width="61.0" height="10.40" fill="url(#g-post)" transform="translate(315.0 198.0) rotate(-89.44)"/>
<rect x="-0.0" y="-5.40" width="8.0" height="10.80" fill="url(#g-sleeve)" transform="translate(315.6 143.0) rotate(-89.28)"/>
<rect x="-0.0" y="-6.50" width="38.0" height="13.00" fill="url(#g-post)" transform="translate(314.7 235.0) rotate(-89.55)"/>
<line x1="308.4" y1="197.5" x2="321.6" y2="197.5" stroke="#999" stroke-width="1"/>
<line x1="308.2" y1="235" x2="321.2" y2="235" stroke="#999" stroke-width="1"/>
<rect x="-0.0" y="-5.90" width="379.0" height="11.80" fill="url(#g-post)" transform="translate(660.8 603.0) rotate(-89.73)"/>
<rect x="-0.0" y="-6.40" width="30.0" height="12.80" fill="url(#g-post)" transform="translate(661.3 504.9) rotate(-89.73)"/>
<line x1="655.0" y1="474.9" x2="667.8" y2="474.9" stroke="#9a9a9a" stroke-width="0.9"/>
<line x1="654.9" y1="504.9" x2="667.7" y2="504.9" stroke="#9a9a9a" stroke-width="0.9"/>
<line x1="655.4" y1="489.9" x2="667.2" y2="489.9" stroke="#b4b4b4" stroke-width="0.8"/>
<rect x="-0.0" y="-6.30" width="13.0" height="12.60" fill="url(#g-footd)" transform="translate(660.8 603.0) rotate(-89.73)"/>
<rect x="-0.0" y="-5.00" width="67.0" height="10.00" fill="url(#g-post)" transform="translate(662.8 184.0) rotate(-89.66)"/>
<rect x="-0.0" y="-5.20" width="9.5" height="10.40" fill="url(#g-sleeve)" transform="translate(663.2 123.0) rotate(-90.00)"/>
<rect x="-0.0" y="-6.60" width="41.0" height="13.20" fill="url(#g-post)" transform="translate(662.6 224.0) rotate(-89.72)"/>
<line x1="656.2" y1="183.5" x2="669.4" y2="183.5" stroke="#999" stroke-width="1"/>
<line x1="656" y1="224" x2="669.2" y2="224" stroke="#999" stroke-width="1"/>
<rect x="-0.0" y="-6.30" width="398.0" height="12.60" fill="url(#g-post)" transform="translate(866.0 603.0) rotate(-90.07)"/>
<rect x="-0.0" y="-6.80" width="28.0" height="13.60" fill="url(#g-post)" transform="translate(865.9 503.6) rotate(-90.07)"/>
<line x1="859.0" y1="475.6" x2="872.6" y2="475.6" stroke="#9a9a9a" stroke-width="0.9"/>
<line x1="859.1" y1="503.6" x2="872.7" y2="503.6" stroke="#9a9a9a" stroke-width="0.9"/>
<line x1="859.6" y1="489.6" x2="872.2" y2="489.6" stroke="#b4b4b4" stroke-width="0.8"/>
<rect x="-0.0" y="-6.70" width="12.0" height="13.40" fill="url(#g-footd)" transform="translate(866.0 603.0) rotate(-90.07)"/>
<ellipse cx="136.0" cy="592.5" rx="21.0" ry="2.2" fill="#5a5a5a"/>
<ellipse cx="310.0" cy="596.8" rx="21.0" ry="2.4" fill="#5a5a5a"/>
<ellipse cx="660.0" cy="605.8" rx="23.0" ry="2.2" fill="#5a5a5a"/>
<ellipse cx="870.0" cy="607.5" rx="14.0" ry="2.0" fill="#5a5a5a"/>
<line x1="268.8" y1="170.0" x2="268.8" y2="355.0" stroke="#cf0f0f" stroke-width="5.0"/>
<line x1="268.8" y1="395.0" x2="268.8" y2="577.0" stroke="#cf0f0f" stroke-width="5.0"/>
<polygon points="268.8,155.0 261.3,171.0 276.3,171.0" fill="#cf0f0f"/>
<polygon points="268.8,592.0 261.3,576.0 276.3,576.0" fill="#cf0f0f"/>
<rect x="224.5" y="357.5" width="86.0" height="36.0" rx="18.0" fill="#fff" filter="url(#bl)"/>
<rect x="226.5" y="359.5" width="82.0" height="32.0" rx="16.0" fill="#fff"/>
<text class="r" x="238.8" y="382" textLength="60.5" lengthAdjust="spacingAndGlyphs">3,42 m</text>
<line x1="343.8" y1="576.4" x2="433.8" y2="578.7" stroke="#cf0f0f" stroke-width="5.0"/>
<line x1="525.0" y1="581.1" x2="615.0" y2="583.4" stroke="#cf0f0f" stroke-width="5.0"/>
<polygon points="328.8,576.0 344.6,583.7 345.0,569.2" fill="#cf0f0f"/>
<polygon points="630.0,583.8 613.8,590.6 614.2,576.1" fill="#cf0f0f"/>
<rect x="434.0" y="560.5" width="90.0" height="36.0" rx="18.0" fill="#fff" filter="url(#bl)"/>
<rect x="436.0" y="562.5" width="86.0" height="32.0" rx="16.0" fill="#fff"/>
<text class="r" x="448.8" y="585.6" textLength="60.7" lengthAdjust="spacingAndGlyphs">3,10 m</text>
<line x1="60.7" y1="53.8" x2="60.7" y2="299.8" stroke="#444" stroke-width="5.0"/>
<line x1="60.7" y1="339.3" x2="60.7" y2="581.5" stroke="#444" stroke-width="5.0"/>
<polygon points="60.7,39.3 53.2,54.8 68.2,54.8" fill="#444"/>
<polygon points="60.7,596.0 53.2,580.5 68.2,580.5" fill="#444"/>
<rect x="14.7" y="302.0" width="92.0" height="36.0" rx="18.0" fill="#fff" filter="url(#bl)"/>
<rect x="16.7" y="304.0" width="88.0" height="32.0" rx="16.0" fill="#fff"/>
<text class="d" x="23.9" y="328" textLength="73.5" lengthAdjust="spacingAndGlyphs">4,09 m</text>
<line x1="1347.5" y1="298.0" x2="1347.5" y2="393.0" stroke="#444" stroke-width="5.0"/>
<line x1="1347.5" y1="434.0" x2="1347.5" y2="530.0" stroke="#444" stroke-width="5.0"/>
<polygon points="1347.5,283.5 1340.0,299.0 1355.0,299.0" fill="#444"/>
<polygon points="1347.5,544.5 1340.0,529.0 1355.0,529.0" fill="#444"/>
<rect x="1318.0" y="395.0" width="60.0" height="36.0" rx="18.0" fill="#fff" filter="url(#bl)"/>
<rect x="1320.0" y="397.0" width="56.0" height="32.0" rx="16.0" fill="#fff"/>
<text class="d" x="1328" y="421" textLength="40" lengthAdjust="spacingAndGlyphs">3 m</text>
<line x1="132.0" y1="636.4" x2="439.6" y2="645.4" stroke="#444" stroke-width="5.0"/>
<line x1="532.5" y1="648.1" x2="840.5" y2="657.1" stroke="#444" stroke-width="5.0"/>
<polygon points="117.5,636.0 132.8,643.7 133.2,629.2" fill="#444"/>
<polygon points="855.0,657.5 839.3,664.3 839.7,649.8" fill="#444"/>
<rect x="453.0" y="626.0" width="66.0" height="36.0" rx="18.0" fill="#fff" filter="url(#bl)"/>
<rect x="455.0" y="628.0" width="62.0" height="32.0" rx="16.0" fill="#fff"/>
<text class="d" x="466" y="652" textLength="40" lengthAdjust="spacingAndGlyphs">6 m</text>
<line x1="912.2" y1="652.8" x2="1058.7" y2="625.6" stroke="#444" stroke-width="5.0"/>
<line x1="1146.1" y1="609.4" x2="1292.3" y2="582.2" stroke="#444" stroke-width="5.0"/>
<polygon points="897.5,655.5 914.6,659.7 911.9,645.5" fill="#444"/>
<polygon points="1307.0,579.5 1292.6,589.5 1289.9,575.3" fill="#444"/>
<rect x="1061.6" y="596.0" width="78.0" height="36.0" rx="18.0" fill="#fff" filter="url(#bl)"/>
<rect x="1063.6" y="598.0" width="74.0" height="32.0" rx="16.0" fill="#fff"/>
<text class="d" x="1073.8" y="622" textLength="53.8" lengthAdjust="spacingAndGlyphs">26 m</text>
<circle cx="232.0" cy="165.0" r="17" fill="#333"/>
<text class="n" x="232.0" y="172.4" text-anchor="middle">1</text>
<circle cx="325.8" cy="123.0" r="17" fill="#333"/>
<text class="n" x="325.8" y="130.4" text-anchor="middle">2</text>
<circle cx="483.8" cy="92.0" r="17" fill="#333"/>
<text class="n" x="483.8" y="99.4" text-anchor="middle">3</text>
<circle cx="865.0" cy="476.0" r="17" fill="#333"/>
<text class="n" x="865.0" y="483.4" text-anchor="middle">4</text>
<circle cx="663.0" cy="427.0" r="17" fill="#333"/>
<text class="n" x="663.0" y="434.4" text-anchor="middle">5</text>
<circle cx="756.0" cy="601.8" r="17" fill="#333"/>
<text class="n" x="756.0" y="609.2" text-anchor="middle">6</text>
<circle cx="864.5" cy="603.0" r="17" fill="#333"/>
<text class="n" x="864.5" y="610.4" text-anchor="middle">7</text>
</svg>
</body>
</html>
